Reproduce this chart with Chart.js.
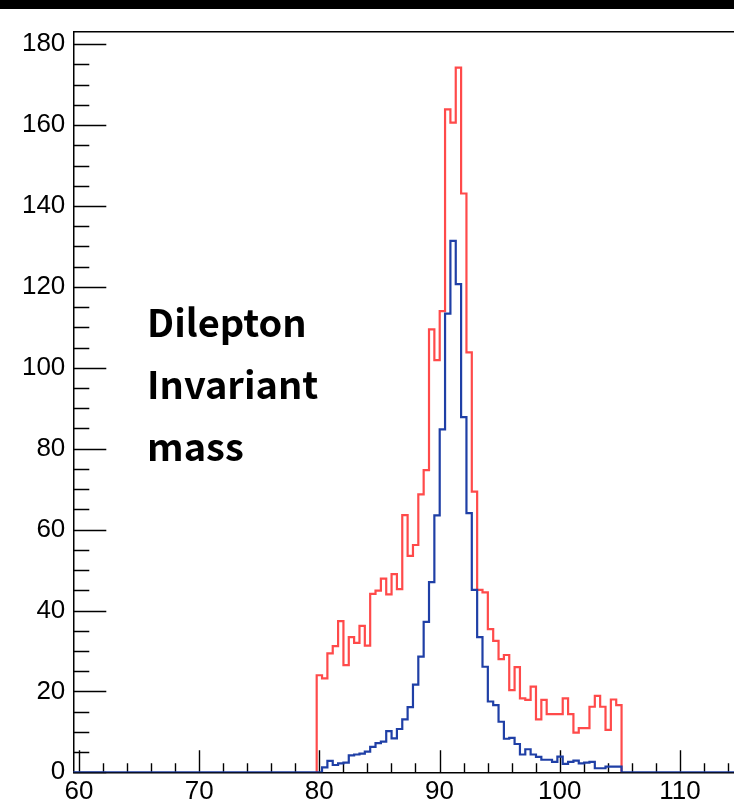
<!DOCTYPE html>
<html>
<head>
<meta charset="utf-8">
<script src="https://cdn.jsdelivr.net/npm/chart.js@4/dist/chart.umd.min.js"></script>
<style>
  html, body { margin: 0; padding: 0; background: #fff; }
  #wrap { position: relative; width: 734px; height: 809px; overflow: hidden; }
  #topbar { position: absolute; left: 0; top: 0; width: 734px; height: 9px; background: #000; z-index: 2; }
  #box { position: absolute; left: 0; top: 0; width: 734px; height: 809px; }
  #note {
    position: absolute; left: 147px; top: 290px; z-index: 3;
    font-family: "Noto Sans CJK JP", "Noto Sans", sans-serif;
    font-weight: 700; font-size: 38px; line-height: 62px; color: #000;
  }
</style>
</head>
<body>
<div id="wrap">
  <div id="topbar"></div>
  <div id="box"><canvas id="c"></canvas></div>
  <div id="note">Dilepton<br>Invariant<br>mass</div>
</div>
<script>
// Dilepton invariant mass histograms, 57 bins starting at binLow
const binLow = 79.78;
const binWidth = 0.445;

// red histogram contents
const redCounts = [24.0, 23.2, 29.4, 31.2, 37.4, 26.5, 33.4, 32.0, 36.2, 31.3,
  44.1, 44.9, 47.9, 44.0, 49.0, 45.3, 63.6, 53.5, 56.2, 68.7,
  74.7, 109.5, 101.9, 114.0, 163.9, 160.6, 174.2, 143.1, 103.8, 69.4,
  45.1, 44.5, 35.4, 32.5, 28.0, 29.0, 20.3, 26.0, 18.3, 17.9,
  21.2, 13.1, 17.9, 14.4, 14.4, 14.4, 18.3, 14.4, 9.8, 10.9,
  10.9, 16.2, 18.9, 16.2, 10.5, 18.0, 16.6];

// blue histogram contents
const blueCounts = [0, 1.2, 2.8, 1.8, 2.2, 2.4, 4.2, 4.4, 4.6, 5.1,
  6.3, 7.2, 7.6, 10.2, 8.4, 10.7, 13.1, 16.1, 21.7, 28.6,
  37.2, 47.0, 63.5, 84.8, 113.4, 131.4, 120.7, 87.8, 64.1, 45.1,
  33.4, 26.1, 17.5, 16.6, 12.5, 8.3, 8.5, 7.0, 4.4, 5.7,
  4.4, 3.8, 3.1, 3.1, 2.6, 3.9, 2.1, 2.6, 2.9, 2.2,
  2.4, 2.6, 1.0, 1.0, 1.4, 1.4, 1.4];

// the blue histogram is booked over a wider range, empty outside the peak region
const blueRange = [50, 130];

// axis ranges and tick spacing
const xRange = [59.53, 114.5];
const yRange = [0, 183.1];
const xMajor = 10, xMinor = 2;
const yMajor = 20, yMinor = 5;

// step outline of a histogram: one point per bin low edge, closing at zero
function outline(low, width, counts) {
  const pts = [{x: low, y: 0}];
  counts.forEach((c, i) => pts.push({x: low + i * width, y: c}));
  pts.push({x: low + counts.length * width, y: counts[counts.length - 1]});
  pts.push({x: low + counts.length * width, y: 0});
  return pts;
}

const redPts = outline(binLow, binWidth, redCounts);
const bluePts = [{x: blueRange[0], y: 0}].concat(outline(binLow, binWidth, blueCounts), [{x: blueRange[1], y: 0}]);

// inward tick marks and the top frame line
const frame = {
  id: 'frame',
  beforeDatasetsDraw(chart) {
    const {ctx, chartArea: a, scales: {x, y}} = chart;
    ctx.save();
    ctx.strokeStyle = '#000';
    ctx.lineWidth = 1.5;
    ctx.beginPath();
    ctx.moveTo(a.left, a.top);
    ctx.lineTo(a.right + 2, a.top);
    ctx.stroke();
    ctx.lineWidth = 1.4;
    ctx.beginPath();
    for (let v = Math.ceil(x.min / xMinor) * xMinor; v <= x.max; v += xMinor) {
      const px = Math.round(x.getPixelForValue(v)) + 0.5;
      const len = (v % xMajor === 0) ? 22 : 9;
      ctx.moveTo(px, a.bottom);
      ctx.lineTo(px, a.bottom - len);
    }
    for (let v = 0; v <= y.max; v += yMinor) {
      const py = Math.round(y.getPixelForValue(v)) + 0.5;
      const len = (v % yMajor === 0) ? 33 : 16;
      ctx.moveTo(a.left, py);
      ctx.lineTo(a.left + len, py);
    }
    ctx.stroke();
    ctx.restore();
  }
};

const tickFont = {family: '"Liberation Sans", Arial, sans-serif', size: 26};

new Chart(document.getElementById('c'), {
  type: 'line',
  data: {
    datasets: [
      {data: bluePts, stepped: 'before', borderColor: '#1f3fa6', borderWidth: 2.2,
       pointRadius: 0, fill: false, order: 0},
      {data: redPts, stepped: 'before', borderColor: '#ff4a4a', borderWidth: 2.2,
       pointRadius: 0, fill: false, order: 1}
    ]
  },
  options: {
    responsive: true,
    maintainAspectRatio: false,
    animation: false,
    events: [],
    layout: {padding: {top: 31.7, left: 0, right: 0, bottom: 0}},
    plugins: {legend: {display: false}, tooltip: {enabled: false}},
    scales: {
      x: {
        type: 'linear', min: xRange[0], max: xRange[1],
        grid: {display: false, drawTicks: false},
        border: {display: true, color: '#000', width: 1.5},
        ticks: {stepSize: xMajor, includeBounds: false, autoSkip: false, maxRotation: 0,
                color: '#000', font: tickFont, padding: 4},
        afterFit(s) { s.height = 36.7; }
      },
      y: {
        type: 'linear', min: yRange[0], max: yRange[1],
        grid: {display: false, drawTicks: false},
        border: {display: true, color: '#000', width: 1.5},
        ticks: {stepSize: yMajor, includeBounds: false, autoSkip: false,
                color: '#000', font: tickFont, padding: 8},
        afterFit(s) { s.width = 73.3; }
      }
    }
  },
  plugins: [frame]
});
</script>
</body>
</html>
